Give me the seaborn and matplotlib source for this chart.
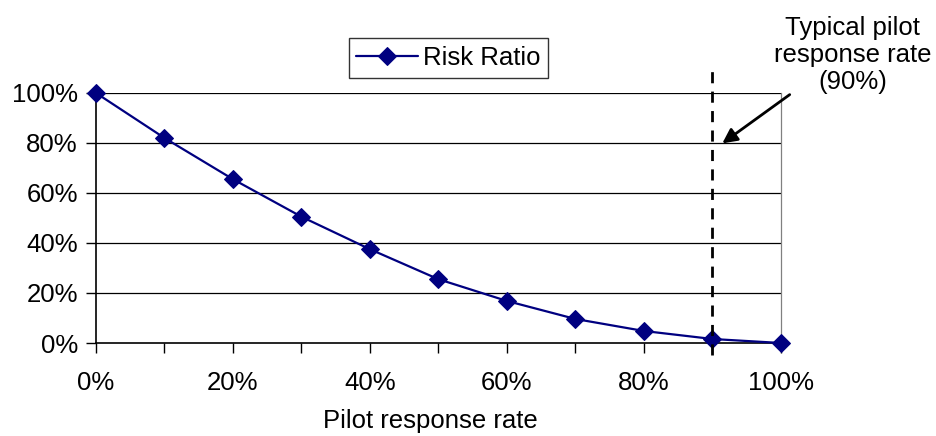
import matplotlib
matplotlib.use("Agg")
import matplotlib.pyplot as plt
import seaborn as sns
import pandas as pd
from matplotlib.ticker import FixedLocator, FuncFormatter

# Data
response_rate = [0.0, 0.1, 0.2, 0.3, 0.4, 0.5, 0.6, 0.7, 0.8, 0.9, 1.0]
risk_ratio = [1.00, 0.82, 0.655, 0.505, 0.375, 0.255, 0.168, 0.096, 0.048, 0.016, 0.0]
series_name = "Risk Ratio"
typical_rate = 0.9
y_ticks = [0.0, 0.2, 0.4, 0.6, 0.8, 1.0]
x_label_values = [0.0, 0.2, 0.4, 0.6, 0.8, 1.0]
x_label = "Pilot response rate"
note_text = "Typical pilot\nresponse rate\n(90%)"

df = pd.DataFrame({"rate": response_rate, "ratio": risk_ratio, "series": series_name})

sns.set_style("white")
plt.rcParams["font.family"] = ["Liberation Sans", "DejaVu Sans"]
plt.rcParams["text.color"] = "black"
plt.rcParams["xtick.color"] = "black"
plt.rcParams["ytick.color"] = "black"
plt.rcParams["axes.labelcolor"] = "black"

FS = 18.5

fig = plt.figure(figsize=(9.37, 4.36), dpi=100)
ax = fig.add_axes([96 / 937, 1 - 343 / 436, (781 - 96) / 937, (343 - 93) / 436])

for y in y_ticks[1:]:
    ax.axhline(y, color="#000000", lw=0.9, zorder=0)

sns.lineplot(data=df, x="rate", y="ratio", hue="series", palette=["#000080"],
             marker="D", markersize=9, markeredgecolor="#000080", lw=1.6, ax=ax,
             clip_on=False, zorder=4)

ax.set_xlim(0, 1)
ax.set_ylim(0, 1)
for s in ["left", "bottom", "right"]:
    ax.spines[s].set_visible(True)
    ax.spines[s].set_color("black")
ax.spines["left"].set_linewidth(1.2)
ax.spines["bottom"].set_linewidth(1.2)
ax.spines["right"].set_linewidth(0.9)
ax.spines["right"].set_color("#808080")
ax.spines["top"].set_visible(False)

ax.xaxis.set_major_locator(FixedLocator(response_rate))
ax.xaxis.set_major_formatter(FuncFormatter(
    lambda v, p: f"{v*100:.0f}%" if any(abs(v - t) < 1e-6 for t in x_label_values) else ""))
ax.yaxis.set_major_locator(FixedLocator(y_ticks))
ax.yaxis.set_major_formatter(FuncFormatter(lambda v, p: f"{v*100:.0f}%"))
ax.tick_params(axis="both", direction="out", length=7, width=1, color="black",
               labelsize=FS, bottom=True, left=True)
ax.tick_params(axis="x", pad=13)
ax.tick_params(axis="y", pad=6)
ax.set_xlabel(x_label, fontsize=FS)
ax.xaxis.set_label_coords(0.488, -0.312)
ax.xaxis.label.set_va("center")
ax.set_ylabel("")

# typical response reference line
ax.plot([typical_rate, typical_rate], [-0.048, 1.10], color="black", lw=2,
        ls=(0, (4, 3)), clip_on=False, zorder=5)
ax.annotate("", xy=(0.911, 0.792), xytext=(1.016, 1.0),
            arrowprops=dict(arrowstyle="-|>", lw=2, color="black", mutation_scale=22),
            annotation_clip=False)
ax.text(1.105, 1.152, note_text, ha="center", va="center", fontsize=FS,
        multialignment="center", linespacing=1.15, clip_on=False)

leg = ax.legend(loc="center", bbox_to_anchor=(448.5 / 937, 1 - 58 / 436),
                bbox_transform=fig.transFigure, frameon=True, fancybox=False,
                fontsize=FS, handlelength=2.4, borderpad=0.3, handletextpad=0.2)
leg.get_frame().set_edgecolor("black")
leg.get_frame().set_linewidth(1)

fig.savefig("out.png", dpi=100)
